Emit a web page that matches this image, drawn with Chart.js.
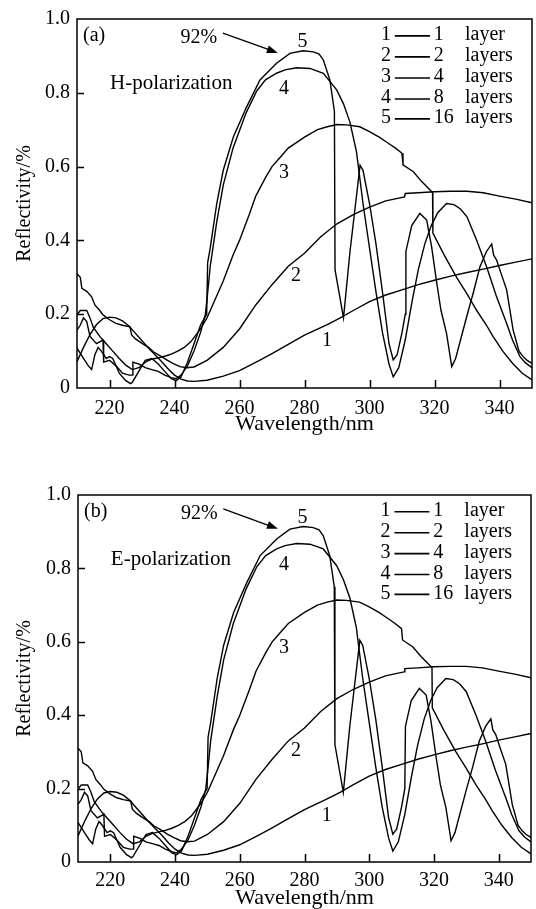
<!DOCTYPE html>
<html>
<head>
<meta charset="utf-8">
<script src="https://cdn.jsdelivr.net/npm/chart.js@4.4.1/dist/chart.umd.min.js"></script>
<style>
  html, body { margin: 0; padding: 0; background: #fff; }
  #wrap { position: relative; width: 536px; height: 909px; }
  .panel { position: absolute; left: 0; width: 536px; }
</style>
</head>
<body>
<div id="wrap">
  <div class="panel" style="top:0;height:455px"><canvas id="chartA" width="536" height="455"></canvas></div>
  <div class="panel" style="top:455px;height:454px"><canvas id="chartB" width="536" height="454"></canvas></div>
</div>
<script>
// datos (longitud de onda en nm, reflectividad)
const nm1 = [210, 212, 214, 216, 218, 220, 222, 224, 226, 228, 230, 232, 234, 236, 238, 240, 242, 244, 246, 250, 255, 260, 266, 270, 275, 280, 287, 291, 295, 300, 305, 310, 315, 320, 325, 330, 335, 340, 345, 350];
const r1 = [0.071, 0.11, 0.145, 0.172, 0.188, 0.192, 0.19, 0.182, 0.168, 0.148, 0.128, 0.108, 0.09, 0.072, 0.052, 0.035, 0.024, 0.019, 0.018, 0.021, 0.032, 0.047, 0.074, 0.093, 0.118, 0.143, 0.172, 0.19, 0.21, 0.234, 0.252, 0.266, 0.28, 0.292, 0.303, 0.313, 0.322, 0.332, 0.341, 0.35];

const nm2 = [210, 211, 211.5, 213, 214.5, 215.5, 217, 218, 220, 222, 224, 226.3, 226.8, 228, 230, 232, 233.5, 235.5, 237.6, 239.5, 241.7, 243.8, 246, 250, 255, 260, 265, 270, 275, 280, 285, 290, 295, 300, 305, 310.8, 311, 315, 320, 325, 330, 335, 340, 345, 350];
const r2 = [0.31, 0.3, 0.27, 0.262, 0.247, 0.225, 0.21, 0.198, 0.185, 0.175, 0.17, 0.166, 0.144, 0.133, 0.121, 0.11, 0.098, 0.088, 0.076, 0.067, 0.058, 0.055, 0.057, 0.075, 0.11, 0.16, 0.225, 0.28, 0.33, 0.365, 0.41, 0.445, 0.47, 0.49, 0.507, 0.518, 0.527, 0.529, 0.532, 0.533, 0.533, 0.529, 0.52, 0.512, 0.502];

const nm3 = [210, 211, 213, 214, 215, 217, 219, 221, 223, 225, 227, 229, 231, 233, 235, 237, 239, 241, 243, 245, 248, 250, 253, 255, 258, 260, 263, 265, 268, 270, 272, 275, 280, 284, 287, 290, 293, 297, 300, 303, 306, 308, 310, 310.3, 313.5, 316, 319.4, 319.5, 323, 326.8, 330, 333, 336, 338, 341, 344, 347, 350];
const r3 = [0.198, 0.21, 0.21, 0.19, 0.165, 0.14, 0.12, 0.1, 0.08, 0.062, 0.05, 0.055, 0.07, 0.078, 0.082, 0.086, 0.092, 0.1, 0.11, 0.125, 0.16, 0.19, 0.25, 0.29, 0.36, 0.4, 0.47, 0.52, 0.57, 0.6, 0.62, 0.65, 0.68, 0.7, 0.708, 0.714, 0.713, 0.708, 0.695, 0.68, 0.662, 0.65, 0.636, 0.605, 0.586, 0.56, 0.53, 0.42, 0.36, 0.3, 0.255, 0.21, 0.17, 0.14, 0.1, 0.067, 0.04, 0.022];

const nm4 = [210, 211, 212, 213, 214, 216, 218, 218.2, 220, 222, 224, 226, 227, 227.2, 229, 231, 233, 235, 237, 239, 240.5, 242, 244, 246, 248, 249.5, 250, 251, 253, 255, 258, 262, 265.3, 268, 271.4, 274, 277.6, 281.7, 285.8, 289.9, 292, 294, 296, 298, 300, 302, 304, 306, 307.3, 309, 311, 313, 315, 317, 319, 321, 323.7, 326, 328, 330, 333, 336, 339, 342.2, 344, 346.3, 348, 350];
const r4 = [0.157, 0.17, 0.19, 0.18, 0.14, 0.12, 0.13, 0.07, 0.075, 0.06, 0.04, 0.035, 0.035, 0.07, 0.065, 0.055, 0.05, 0.045, 0.035, 0.028, 0.025, 0.035, 0.06, 0.1, 0.15, 0.2, 0.24, 0.33, 0.45, 0.55, 0.65, 0.745, 0.805, 0.835, 0.853, 0.862, 0.868, 0.866, 0.853, 0.808, 0.77, 0.72, 0.64, 0.5, 0.38, 0.26, 0.15, 0.065, 0.03, 0.055, 0.13, 0.23, 0.32, 0.39, 0.44, 0.475, 0.5, 0.497, 0.485, 0.464, 0.4, 0.329, 0.25, 0.175, 0.13, 0.085, 0.068, 0.055];

const nm5 = [210, 212, 213.5, 214.5, 215.5, 216.5, 217.5, 219, 220, 221, 223, 225, 226.5, 227, 229, 231, 233, 235, 237, 239, 240.5, 242, 244, 246, 248, 249.9, 250.2, 251, 253, 255, 258.1, 262.2, 266.3, 271.4, 275.5, 279.6, 282.7, 284.5, 285.8, 287.8, 289.2, 289.4, 292, 294, 297.1, 298, 300, 302, 304, 306, 307.3, 308.5, 310, 311, 311.2, 313, 315.5, 317.6, 319.1, 320.7, 322, 323.7, 325.3, 326.5, 328, 329.9, 332, 334, 336, 337.6, 338.2, 339.1, 340.5, 342.2, 344.2, 346, 347.3, 348.5, 350];
const r5 = [0.108, 0.08, 0.06, 0.05, 0.09, 0.11, 0.1, 0.08, 0.085, 0.08, 0.04, 0.02, 0.012, 0.015, 0.045, 0.075, 0.08, 0.065, 0.045, 0.025, 0.02, 0.03, 0.07, 0.12, 0.17, 0.2, 0.34, 0.38, 0.5, 0.59, 0.68, 0.762, 0.835, 0.88, 0.907, 0.914, 0.911, 0.905, 0.889, 0.835, 0.75, 0.32, 0.19, 0.37, 0.604, 0.59, 0.5, 0.39, 0.26, 0.12, 0.076, 0.09, 0.15, 0.2, 0.37, 0.44, 0.473, 0.455, 0.383, 0.284, 0.21, 0.148, 0.058, 0.08, 0.13, 0.193, 0.26, 0.329, 0.37, 0.39, 0.36, 0.347, 0.31, 0.266, 0.157, 0.1, 0.085, 0.075, 0.067];

const xTicks = [220, 240, 260, 280, 300, 320, 340];
const yTicks = [0, 0.2, 0.4, 0.6, 0.8, 1.0];
const curveNums = ['1', '2', '3', '4', '5'];
const layerCounts = ['1', '2', '4', '8', '16'];
const layerWords = ['layer', 'layers', 'layers', 'layers', 'layers'];

const FONT = '"Liberation Serif", "Times New Roman", serif';

const curvas = [[nm1, r1], [nm2, r2], [nm3, r3], [nm4, r4], [nm5, r5]];

function hacerDatasets() {
    return curvas.map(([xs, ys], i) => ({
        label: curveNums[i],
        data: xs.map((v, j) => ({ x: v, y: ys[j] })),
        borderColor: '#000',
        borderWidth: 1.4,
        pointRadius: 0,
        tension: 0,
        fill: false
    }));
}

// etiquetas en coordenadas de datos
const etiquetasCurva = [
    { t: '1', x: 286.9, y: 0.127 },
    { t: '2', x: 277.4, y: 0.304 },
    { t: '3', x: 273.7, y: 0.583 },
    { t: '4', x: 273.7, y: 0.81 },
    { t: '5', x: 279.4, y: 0.939 }
];
const filasLeyenda = [0.957, 0.9, 0.843, 0.786, 0.732];

const decor = {
    id: 'decor',
    afterDraw(chart, args, opts) {
        const { ctx, chartArea: a, scales: { x, y } } = chart;
        ctx.save();
        ctx.strokeStyle = '#000';
        ctx.fillStyle = '#000';
        ctx.lineWidth = 1.5;
        ctx.strokeRect(a.left, a.top, a.right - a.left, a.bottom - a.top);

        // marcas hacia adentro
        ctx.beginPath();
        xTicks.forEach(v => {
            const px = Math.round(x.getPixelForValue(v)) + 0.5;
            ctx.moveTo(px, a.bottom);
            ctx.lineTo(px, a.bottom - 8);
        });
        yTicks.slice(1, -1).forEach(v => {
            const py = Math.round(y.getPixelForValue(v)) + 0.5;
            ctx.moveTo(a.left, py);
            ctx.lineTo(a.left + 7, py);
        });
        ctx.stroke();

        ctx.font = '20px ' + FONT;
        ctx.textBaseline = 'middle';

        // numeros de las curvas
        ctx.textAlign = 'center';
        etiquetasCurva.forEach(e => {
            ctx.fillText(e.t, x.getPixelForValue(e.x), y.getPixelForValue(e.y));
        });

        // panel y polarizacion
        ctx.textAlign = 'left';
        ctx.fillText(opts.panel, x.getPixelForValue(211.85), y.getPixelForValue(0.954));
        ctx.font = '21px ' + FONT;
        ctx.fillText(opts.pol, x.getPixelForValue(220.15), y.getPixelForValue(0.824));
        ctx.font = '20px ' + FONT;

        // 92% con flecha
        ctx.textAlign = 'center';
        ctx.fillText('92%', x.getPixelForValue(247.5), y.getPixelForValue(0.95));
        const x0 = x.getPixelForValue(254.9), y0 = y.getPixelForValue(0.962);
        const x1 = x.getPixelForValue(271.8), y1 = y.getPixelForValue(0.908);
        const ang = Math.atan2(y1 - y0, x1 - x0);
        ctx.lineWidth = 1.3;
        ctx.beginPath();
        ctx.moveTo(x0, y0);
        ctx.lineTo(x1 - 8 * Math.cos(ang), y1 - 8 * Math.sin(ang));
        ctx.stroke();
        ctx.beginPath();
        ctx.moveTo(x1, y1);
        ctx.lineTo(x1 - 11 * Math.cos(ang) + 4 * Math.sin(ang), y1 - 11 * Math.sin(ang) - 4 * Math.cos(ang));
        ctx.lineTo(x1 - 11 * Math.cos(ang) - 4 * Math.sin(ang), y1 - 11 * Math.sin(ang) + 4 * Math.cos(ang));
        ctx.closePath();
        ctx.fill();

        // leyenda
        ctx.textAlign = 'left';
        ctx.lineWidth = 1.6;
        filasLeyenda.forEach((r, i) => {
            const py = y.getPixelForValue(r);
            ctx.fillText(curveNums[i], x.getPixelForValue(303.5), py);
            ctx.beginPath();
            ctx.moveTo(x.getPixelForValue(307.8), py + 1);
            ctx.lineTo(x.getPixelForValue(318.6), py + 1);
            ctx.stroke();
            ctx.fillText(layerCounts[i], x.getPixelForValue(319.8), py);
            ctx.fillText(layerWords[i], x.getPixelForValue(329.4), py);
        });
        ctx.restore();
    }
};

function crearGrafica(id, panel, pol, pad, xTitlePad) {
    return new Chart(document.getElementById(id), {
        type: 'line',
        data: { datasets: hacerDatasets() },
        plugins: [decor],
        options: {
            responsive: false,
            animation: false,
            events: [],
            layout: { padding: pad },
            plugins: {
                legend: { display: false },
                tooltip: { enabled: false },
                decor: { panel: panel, pol: pol }
            },
            scales: {
                x: {
                    type: 'linear',
                    min: 210,
                    max: 350,
                    afterBuildTicks: s => { s.ticks = xTicks.map(v => ({ value: v })); },
                    afterFit: s => { s.height = xTitlePad.h; },
                    grid: { display: false, drawTicks: false },
                    border: { display: false },
                    ticks: { color: '#000', font: { family: FONT, size: 20 }, padding: xTitlePad.tp, maxRotation: 0 },
                    title: { display: true, text: 'Wavelength/nm', color: '#000', font: { family: FONT, size: 22, lineHeight: 1 }, padding: { bottom: xTitlePad.b } }
                },
                y: {
                    min: 0,
                    max: 1,
                    afterBuildTicks: s => { s.ticks = yTicks.map(v => ({ value: v })); },
                    afterFit: s => { s.width = pad.yw; },
                    grid: { display: false, drawTicks: false },
                    border: { display: false },
                    ticks: { color: '#000', font: { family: FONT, size: 20 }, padding: 7, callback: v => v === 0 ? '0' : v.toFixed(1) },
                    title: { display: true, text: 'Reflectivity/%', color: '#000', font: { family: FONT, size: 20, lineHeight: 1 }, padding: { top: 15 } }
                }
            }
        }
    });
}

crearGrafica('chartA', '(a)', 'H-polarization', { top: 19, right: 4, left: 0, bottom: 0, yw: 77 }, { h: 67, tp: 9, b: 20 });
crearGrafica('chartB', '(b)', 'E-polarization', { top: 40, right: 5, left: 0, bottom: 0, yw: 78 }, { h: 47, tp: 7, b: 0 });
</script>
</body>
</html>
